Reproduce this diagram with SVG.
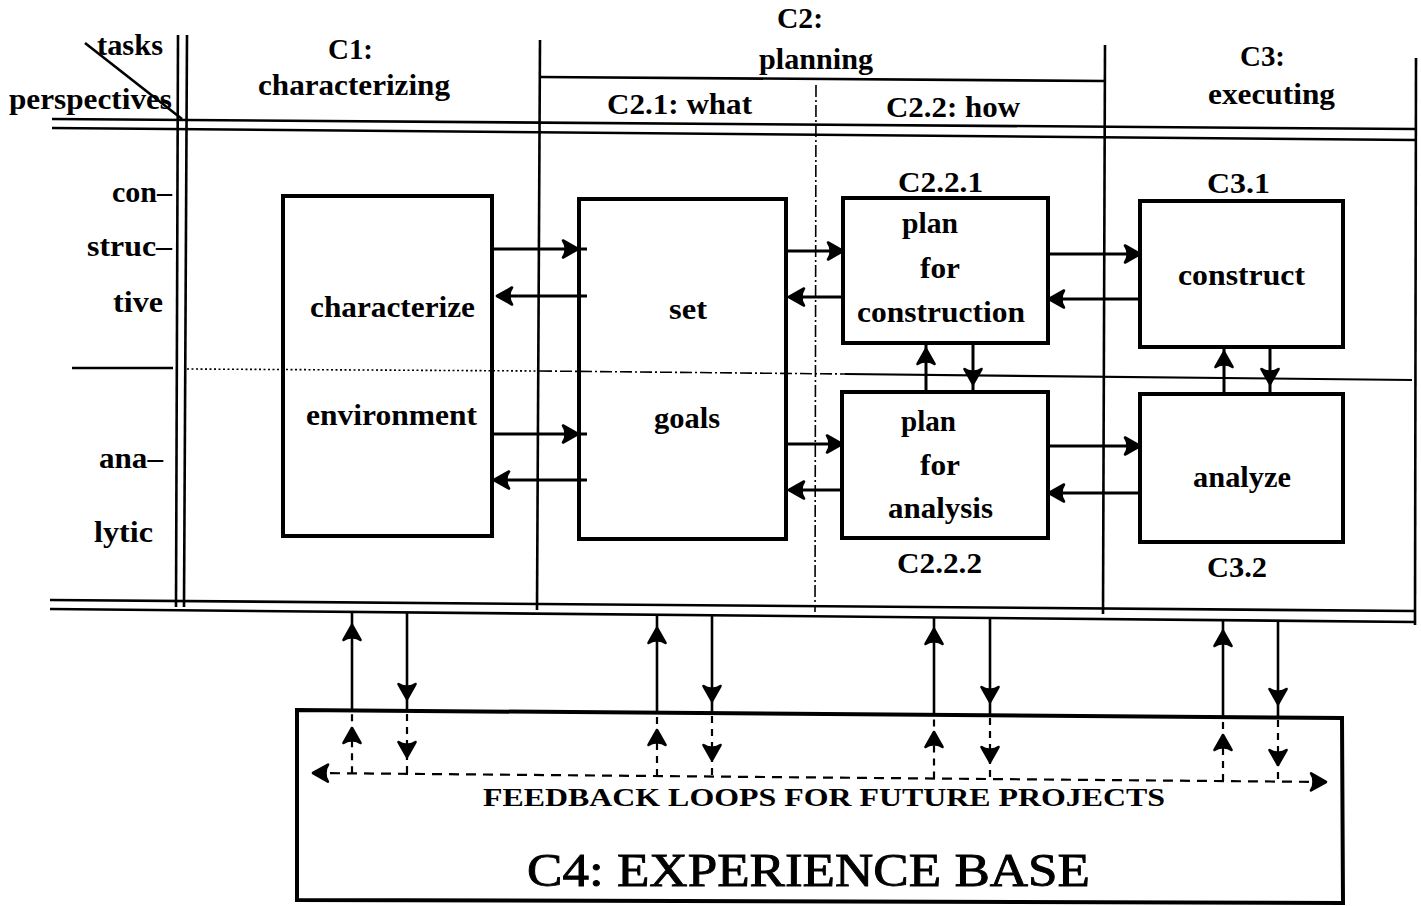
<svg xmlns="http://www.w3.org/2000/svg" width="1421" height="906" viewBox="0 0 1421 906">
<style>
  .bg { fill: #ffffff; }
  .grid { stroke: #000; stroke-width: 2.6; fill: none; }
  .thin { stroke: #000; stroke-width: 2.2; fill: none; }
  .dot { stroke: #000; stroke-width: 1.6; fill: none; stroke-dasharray: 2 2.5; }
  .dashdot { stroke: #000; stroke-width: 1.6; fill: none; stroke-dasharray: 12 3 2 3; }
  .box { stroke: #000; stroke-width: 4; fill: none; }
  .conn { stroke: #000; stroke-width: 3; fill: none; }
  .vconn { stroke: #000; stroke-width: 2.6; fill: none; }
  .dash { stroke: #000; stroke-width: 2.2; fill: none; stroke-dasharray: 10 7; }
  .vdash { stroke: #000; stroke-width: 2.2; fill: none; stroke-dasharray: 7 6; }
  .head { fill: #000; stroke: #000; stroke-width: 2.6; stroke-linejoin: round; stroke-dasharray: none; }
  .lbl { font-family: "Liberation Serif", "DejaVu Serif", serif; font-weight: bold; font-size: 30px; fill: #000; }
  .fb { font-family: "Liberation Serif", "DejaVu Serif", serif; font-weight: bold; font-size: 26px; fill: #000; }
  .title { font-family: "Liberation Serif", "DejaVu Serif", serif; font-weight: normal; font-size: 47px; fill: #000; stroke: #000; stroke-width: 0.9; }
</style>
<defs>
  <marker id="ah" markerUnits="userSpaceOnUse" orient="auto-start-reverse" refX="0" refY="0" markerWidth="20" markerHeight="20" overflow="visible">
    <path class="head" d="M0,0 L-15,-8.5 Q-12,-4 -12.5,0 Q-12,4 -15,8.5 Z"/>
  </marker>
</defs>
<rect class="bg" x="0" y="0" width="1421" height="906"/>

<g id="grid">
  <line class="grid" x1="52" y1="119" x2="1415" y2="129"/>
  <line class="grid" x1="52" y1="128" x2="1415" y2="140"/>
  <line class="grid" x1="50" y1="600" x2="1415" y2="611"/>
  <line class="grid" x1="50" y1="609" x2="1415" y2="622"/>
  <line class="grid" x1="178" y1="35" x2="176" y2="607"/>
  <line class="grid" x1="187" y1="35" x2="184" y2="607"/>
  <line class="grid" x1="540" y1="40" x2="537" y2="610"/>
  <line class="grid" x1="1105" y1="45" x2="1103" y2="614"/>
  <line class="grid" x1="1416" y1="58" x2="1415" y2="625"/>
  <line class="dashdot" x1="816" y1="85" x2="815" y2="612"/>
  <line class="grid" x1="540" y1="77" x2="1105" y2="81"/>
  <line class="grid" x1="85" y1="43" x2="182" y2="119"/>
  <line class="grid" x1="72" y1="368" x2="173" y2="368"/>
  <line class="dot" x1="187" y1="369" x2="540" y2="371"/>
  <line class="dashdot" x1="540" y1="371" x2="845" y2="374"/>
  <line class="thin" x1="845" y1="374" x2="1412" y2="380"/>
</g>

<g id="headers">
  <text class="lbl" x="97" y="55" textLength="66" lengthAdjust="spacingAndGlyphs">tasks</text>
  <text class="lbl" x="9" y="109" textLength="163" lengthAdjust="spacingAndGlyphs">perspectives</text>
  <text class="lbl" x="328" y="59" textLength="45" lengthAdjust="spacingAndGlyphs">C1:</text>
  <text class="lbl" x="258" y="95" textLength="192" lengthAdjust="spacingAndGlyphs">characterizing</text>
  <text class="lbl" x="777" y="28" textLength="46" lengthAdjust="spacingAndGlyphs">C2:</text>
  <text class="lbl" x="759" y="69" textLength="114" lengthAdjust="spacingAndGlyphs">planning</text>
  <text class="lbl" x="607" y="114" textLength="145" lengthAdjust="spacingAndGlyphs">C2.1: what</text>
  <text class="lbl" x="886" y="117" textLength="134" lengthAdjust="spacingAndGlyphs">C2.2: how</text>
  <text class="lbl" x="1240" y="66" textLength="45" lengthAdjust="spacingAndGlyphs">C3:</text>
  <text class="lbl" x="1208" y="104" textLength="127" lengthAdjust="spacingAndGlyphs">executing</text>
  <text class="lbl" x="112" y="202" textLength="60" lengthAdjust="spacingAndGlyphs">con–</text>
  <text class="lbl" x="87" y="256" textLength="85" lengthAdjust="spacingAndGlyphs">struc–</text>
  <text class="lbl" x="113" y="312" textLength="50" lengthAdjust="spacingAndGlyphs">tive</text>
  <text class="lbl" x="99" y="468" textLength="64" lengthAdjust="spacingAndGlyphs">ana–</text>
  <text class="lbl" x="94" y="542" textLength="59" lengthAdjust="spacingAndGlyphs">lytic</text>
</g>

<g id="n-characterize">
  <rect class="box" x="283" y="196" width="209" height="340"/>
  <text class="lbl" x="310" y="317" textLength="165" lengthAdjust="spacingAndGlyphs">characterize</text>
  <text class="lbl" x="306" y="425" textLength="171" lengthAdjust="spacingAndGlyphs">environment</text>
</g>

<g id="n-setgoals">
  <rect class="box" x="579" y="199" width="207" height="340"/>
  <text class="lbl" x="669" y="319" textLength="38" lengthAdjust="spacingAndGlyphs">set</text>
  <text class="lbl" x="654" y="428" textLength="66" lengthAdjust="spacingAndGlyphs">goals</text>
</g>

<g id="n-planconstruction">
  <rect class="box" x="843" y="198" width="205" height="145"/>
  <text class="lbl" x="898" y="192" textLength="85" lengthAdjust="spacingAndGlyphs">C2.2.1</text>
  <text class="lbl" x="902" y="233" textLength="56" lengthAdjust="spacingAndGlyphs">plan</text>
  <text class="lbl" x="920" y="278" textLength="40" lengthAdjust="spacingAndGlyphs">for</text>
  <text class="lbl" x="857" y="322" textLength="168" lengthAdjust="spacingAndGlyphs">construction</text>
</g>

<g id="n-plananalysis">
  <rect class="box" x="842" y="392" width="206" height="146"/>
  <text class="lbl" x="901" y="431" textLength="55" lengthAdjust="spacingAndGlyphs">plan</text>
  <text class="lbl" x="920" y="475" textLength="40" lengthAdjust="spacingAndGlyphs">for</text>
  <text class="lbl" x="888" y="518" textLength="105" lengthAdjust="spacingAndGlyphs">analysis</text>
  <text class="lbl" x="897" y="573" textLength="85" lengthAdjust="spacingAndGlyphs">C2.2.2</text>
</g>

<g id="n-construct">
  <rect class="box" x="1140" y="201" width="203" height="146"/>
  <text class="lbl" x="1207" y="193" textLength="63" lengthAdjust="spacingAndGlyphs">C3.1</text>
  <text class="lbl" x="1178" y="285" textLength="127" lengthAdjust="spacingAndGlyphs">construct</text>
</g>

<g id="n-analyze">
  <rect class="box" x="1140" y="394" width="203" height="148"/>
  <text class="lbl" x="1193" y="487" textLength="98" lengthAdjust="spacingAndGlyphs">analyze</text>
  <text class="lbl" x="1207" y="577" textLength="60" lengthAdjust="spacingAndGlyphs">C3.2</text>
</g>

<g id="n-experiencebase">
  <path class="box" d="M297,710 L1342,718 L1343,903 L297,900 Z"/>
  <text class="fb" x="483" y="806" textLength="682" lengthAdjust="spacingAndGlyphs">FEEDBACK LOOPS FOR FUTURE PROJECTS</text>
  <text class="title" x="527" y="886" textLength="563" lengthAdjust="spacingAndGlyphs">C4: EXPERIENCE BASE</text>
</g>

<g id="connectors">
  <path class="conn" d="M492,249 L578,249 L587,249" marker-mid="url(#ah)"/>
  <path class="conn" d="M587,296 L497,296" marker-end="url(#ah)"/>
  <path class="conn" d="M492,434 L578,434 L587,434" marker-mid="url(#ah)"/>
  <path class="conn" d="M587,480 L494,480" marker-end="url(#ah)"/>
  <path class="conn" d="M786,251 L843,251" marker-end="url(#ah)"/>
  <path class="conn" d="M843,297 L789,297" marker-end="url(#ah)"/>
  <path class="conn" d="M786,444 L842,444" marker-end="url(#ah)"/>
  <path class="conn" d="M842,490 L789,490" marker-end="url(#ah)"/>
  <path class="conn" d="M1048,254 L1140,254" marker-end="url(#ah)"/>
  <path class="conn" d="M1140,299 L1049,299" marker-end="url(#ah)"/>
  <path class="conn" d="M1048,446 L1140,446" marker-end="url(#ah)"/>
  <path class="conn" d="M1140,493 L1049,493" marker-end="url(#ah)"/>
  <path class="conn" d="M926,392 L926,349 L926,343" marker-mid="url(#ah)"/>
  <path class="conn" d="M973,343 L973,384 L973,392" marker-mid="url(#ah)"/>
  <path class="conn" d="M1224,394 L1224,352 L1224,347" marker-mid="url(#ah)"/>
  <path class="conn" d="M1270,347 L1270,384 L1270,394" marker-mid="url(#ah)"/>

  <path class="vconn" d="M352,710 L352,625 L352,612" marker-mid="url(#ah)"/>
  <path class="vconn" d="M407,612 L407,699 L407,711" marker-mid="url(#ah)"/>
  <path class="vconn" d="M657,713 L657,628 L657,615" marker-mid="url(#ah)"/>
  <path class="vconn" d="M712,615 L712,701 L712,713" marker-mid="url(#ah)"/>
  <path class="vconn" d="M934,715 L934,629 L934,617" marker-mid="url(#ah)"/>
  <path class="vconn" d="M990,617 L990,702 L990,715" marker-mid="url(#ah)"/>
  <path class="vconn" d="M1223,717 L1223,631 L1223,620" marker-mid="url(#ah)"/>
  <path class="vconn" d="M1278,620 L1278,704 L1278,717" marker-mid="url(#ah)"/>

  <path class="dash" d="M313,773 L1326,782" marker-start="url(#ah)" marker-end="url(#ah)"/>
  <path class="vdash" d="M352,773.3 L352,728 L352,713" marker-mid="url(#ah)"/>
  <path class="vdash" d="M407,714 L407,757 L407,773.8" marker-mid="url(#ah)"/>
  <path class="vdash" d="M657,776.1 L657,730 L657,716" marker-mid="url(#ah)"/>
  <path class="vdash" d="M712,716 L712,760 L712,776.5" marker-mid="url(#ah)"/>
  <path class="vdash" d="M934,778.5 L934,732 L934,718" marker-mid="url(#ah)"/>
  <path class="vdash" d="M990,718 L990,762 L990,779" marker-mid="url(#ah)"/>
  <path class="vdash" d="M1223,781.1 L1223,735 L1223,720" marker-mid="url(#ah)"/>
  <path class="vdash" d="M1278,720 L1278,765 L1278,781.6" marker-mid="url(#ah)"/>
</g>
</svg>
